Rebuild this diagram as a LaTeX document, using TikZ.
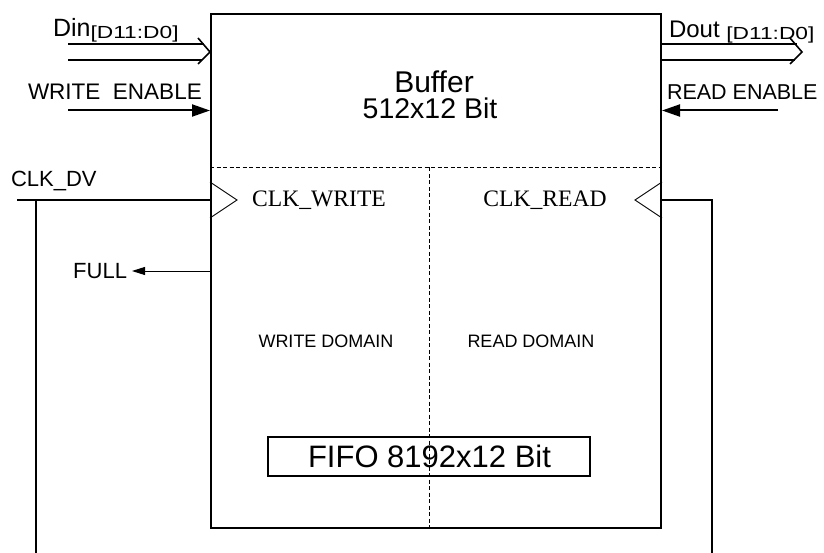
\documentclass[tikz,border=0pt]{standalone}
\usepackage{fontspec}
\setmainfont{Liberation Sans}
\newfontfamily\clkfont{Liberation Serif}
\usetikzlibrary{arrows.meta}
\newcommand{\fsz}[1]{\fontsize{#1}{#1}\selectfont}
\begin{document}
\begin{tikzpicture}[x=1pt,y=-1pt,line width=2pt,
  lbl/.style={inner sep=0pt,anchor=base west},
  clbl/.style={inner sep=0pt,anchor=base},
  thinline/.style={line width=0.9pt},
  divline/.style={line width=0.9pt,dash pattern=on 4pt off 2.5pt},
  bigtip/.style={-{Triangle[length=18pt,width=12pt]}},
  smalltip/.style={-{Triangle[length=13pt,width=8pt]}}]
\useasboundingbox (0,0) rectangle (824,553);
\fill[white] (0,0) rectangle (824,553);
% main block
\node[draw,line width=2pt,minimum width=450pt,minimum height=514pt,
      anchor=north west,inner sep=0pt] (buf) at (210,13) {};
% division lines
\coordinate (hl) at (210,167.5);
\coordinate (hr) at (660,167.5);
\coordinate (vt) at (429,167.5);
\coordinate (vb) at (429,527);
\draw[divline] (hl) -- (hr);
\draw[divline] (vt) -- (vb);
% texts
\node[lbl] (din) at (52,37) {\fsz{25}Din\raisebox{-1.5pt}{\scalebox{1.3}[1]{\fsz{17.5}[D11:D0]}}};
\node[lbl] (we) at (27,100) {\fsz{22.5}WRITE~~ENABLE};
\node[clbl] (bufa) at (434,93) {\fsz{30}Buffer};
\node[clbl] (bufb) at (430,119) {\fsz{28.5}512x12 Bit};
\node[lbl] (dout) at (668,38) {\fsz{24}Dout \raisebox{-1.5pt}{\scalebox{1.3}[1]{\fsz{17.5}[D11:D0]}}};
\node[lbl] (re) at (666,100) {\fsz{21.5}READ ENABLE};
\node[lbl] (clk) at (10,187) {\fsz{22}CLK\_DV};
\node[clbl] (cw) at (319,207) {\clkfont\fsz{23.6}CLK\_WRITE};
\node[clbl] (cr) at (545,207) {\clkfont\fsz{23.6}CLK\_READ};
\node[inner sep=0pt,anchor=base east] (full) at (128,278) {\fsz{22}FULL};
\node[clbl] (wd) at (326,347) {\fsz{18}WRITE DOMAIN};
\node[clbl] (rd) at (531,347) {\fsz{18}READ DOMAIN};
\node[draw,line width=2pt,minimum width=322pt,minimum height=39pt,inner sep=0pt]
   (fifo) at (429,456.5) {};
\node[clbl] at (429.5,467) {\fsz{31}FIFO 8192x12 Bit};
% Din bus
\coordinate (dinA) at (68,44.5);
\coordinate (dinB) at (68,60);
\draw (dinA) -- (204,44.5);
\draw (dinB) -- (202,60);
\draw[line width=1.6pt] (198,38) -- (buf.west |- 0,52) -- (198,64);
% Dout bus
\coordinate (doutA) at (797,44.5);
\coordinate (doutB) at (795,60);
\draw (buf.east |- 0,44.5) -- (doutA);
\draw (buf.east |- 0,60) -- (doutB);
\draw[line width=1.6pt] (790,38) -- (802,52) -- (790,64);
% enables
\coordinate (weS) at (68,110.5);
\draw[bigtip] (weS) -- (weS -| buf.west);
\coordinate (reS) at (778,110.5);
\draw[bigtip] (reS) -- (reS -| buf.east);
% full
\draw[thinline,smalltip] (buf.west |- 0,271) -- ([xshift=4pt]full.east |- 0,271);
% clock
\coordinate (clkS) at (17,200);
\coordinate (clkT) at (36,200);
\coordinate (clkB) at (36,553);
\draw (clkS) -- (clkS -| buf.west);
\draw (clkT) -- (clkB);
\coordinate (rclkT) at (712,200);
\coordinate (rclkB) at (712,553);
\draw (buf.east |- 0,200) -- (rclkT) -- (rclkB);
% clock triangles
\draw[thinline] (buf.west |- 0,182) -- (237,200) -- (buf.west |- 0,218);
\draw[thinline] (buf.east |- 0,182) -- (635,200) -- (buf.east |- 0,218);
\end{tikzpicture}
\end{document}
